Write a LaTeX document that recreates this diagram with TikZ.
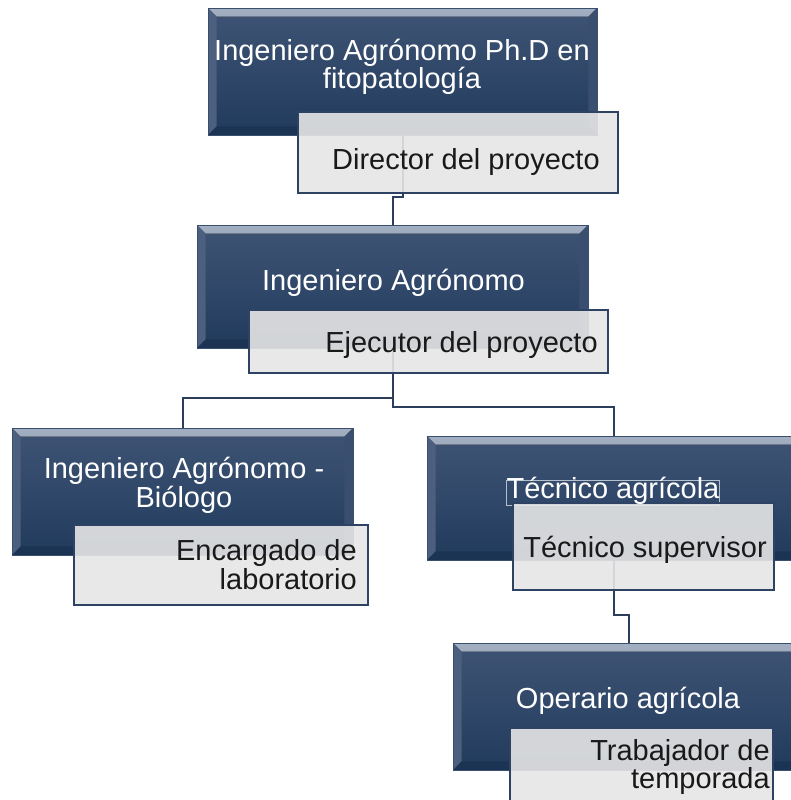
\documentclass[tikz,border=0pt]{standalone}
\usepackage{fontspec}
\setmainfont{Liberation Sans}
\definecolor{dtop}{HTML}{3F5475}
\definecolor{dbot}{HTML}{213B5D}
\definecolor{bevtopa}{HTML}{A3B0C2}
\definecolor{bevtopb}{HTML}{5A6C88}
\definecolor{bevleft}{HTML}{4C5F7E}
\definecolor{bevright}{HTML}{3A4F70}
\definecolor{bevbot}{HTML}{1C3454}
\definecolor{gfill}{HTML}{E6E6E6}
\definecolor{gedge}{HTML}{2E4363}
\definecolor{conncol}{HTML}{2B3F5C}
\tikzset{
  darkbox/.style={rectangle, inner sep=0pt, top color=dtop, bottom color=dbot, draw=bevright, line width=0.4pt,
    path picture={
      \fill[top color=bevtopa, bottom color=bevtopb]
        (path picture bounding box.north west) -- (path picture bounding box.north east)
        -- ([shift={(-6.5pt,-6.5pt)}]path picture bounding box.north east)
        -- ([shift={(6.5pt,-6.5pt)}]path picture bounding box.north west) -- cycle;
      \fill[bevleft]
        (path picture bounding box.north west) -- ([shift={(6.5pt,-6.5pt)}]path picture bounding box.north west)
        -- ([shift={(6.5pt,6.5pt)}]path picture bounding box.south west) -- (path picture bounding box.south west) -- cycle;
      \fill[bevright]
        (path picture bounding box.north east) -- ([shift={(-6.5pt,-6.5pt)}]path picture bounding box.north east)
        -- ([shift={(-6.5pt,6.5pt)}]path picture bounding box.south east) -- (path picture bounding box.south east) -- cycle;
      \fill[bevbot]
        (path picture bounding box.south west) -- ([shift={(6.5pt,6.5pt)}]path picture bounding box.south west)
        -- ([shift={(-6.5pt,6.5pt)}]path picture bounding box.south east) -- (path picture bounding box.south east) -- cycle;
    }},
  greybox/.style={rectangle, inner sep=0pt, fill=gfill, fill opacity=0.9, draw=gedge, draw opacity=1, line width=1.2pt},
  conn/.style={draw=conncol, line width=1.5pt},
  wtext/.style={inner sep=0pt, text=white, font=\fontsize{21.75pt}{21pt}\selectfont, anchor=base},
  btext/.style={inner sep=0pt, text=black!90, font=\fontsize{21.75pt}{21pt}\selectfont, anchor=base east}
}
\begin{document}
\begin{tikzpicture}[x=0.75pt, y=-0.75pt]
\useasboundingbox (0,0) rectangle (791,800);
\clip (0,0) rectangle (791,800);
\fill[white] (0,0) rectangle (791,800);

% dark boxes
\node[darkbox, minimum width=291.75pt, minimum height=95.25pt] (B1) at (402.5,71.5) {};
\node[darkbox, minimum width=293.25pt, minimum height=92.25pt] (B2) at (392.5,286.5) {};
\node[darkbox, minimum width=255.75pt, minimum height=95.25pt] (B3) at (182.5,491.5) {};
\node[darkbox, minimum width=279.75pt, minimum height=93pt] (B4) at (613.5,498) {};
\node[darkbox, minimum width=264pt, minimum height=95.25pt] (B5) at (629,706.5) {};

% text frame artifact behind "Técnico agrícola"
\draw[draw=bevtopa!80, line width=0.5pt] (506,480) rectangle (719,505);

% connectors
\coordinate (k1) at (402.5,197);
\coordinate (k2) at (392.5,398);
\coordinate (k3) at (392.5,407);
\coordinate (k4) at (613.5,615);
\draw[conn] (B1.south) -- (k1) -| (B2.north);
\draw[conn] (B2.south) -- (k2) -| (B3.north);
\draw[conn] (B2.south) -- (k3) -| (B4.north);
\draw[conn] (B4.south) -- (k4) -| (B5.north);

% grey boxes
\node[greybox, minimum width=240pt, minimum height=60.75pt] (G1) at (458,152.5) {};
\node[greybox, minimum width=269.25pt, minimum height=47.25pt] (G2) at (428.5,341.5) {};
\node[greybox, minimum width=220.5pt, minimum height=60pt] (G3) at (221,565) {};
\node[greybox, minimum width=195.75pt, minimum height=65.25pt] (G4) at (643.5,546.5) {};
\node[greybox, minimum width=197.25pt, minimum height=65.25pt] (G5) at (641.5,771.5) {};

% texts
\node[wtext] (t1a) at (402,60.7) {Ingeniero Agrónomo Ph.D en};
\node[wtext] (t1b) at (402,88.3) {fitopatología};
\node[btext] (d1) at (600,169) {Director del proyecto};
\node[wtext] (t2) at (393.5,290) {Ingeniero Agrónomo};
\node[btext] (d2) at (598,352.5) {Ejecutor del proyecto};
\node[wtext] (t3a) at (184,478) {Ingeniero Agrónomo -};
\node[wtext] (t3b) at (184,507) {Biólogo};
\node[btext] (d3a) at (357,560.7) {Encargado de};
\node[btext] (d3b) at (357,589.3) {laboratorio};
\node[wtext] (t4) at (613,498) {Técnico agrícola};
\node[btext] (d4) at (767,557) {Técnico supervisor};
\node[wtext] (t5) at (628,708) {Operario agrícola};
\node[btext] (d5a) at (770,760) {Trabajador de};
\node[btext] (d5b) at (770,788) {temporada};
\end{tikzpicture}
\end{document}
